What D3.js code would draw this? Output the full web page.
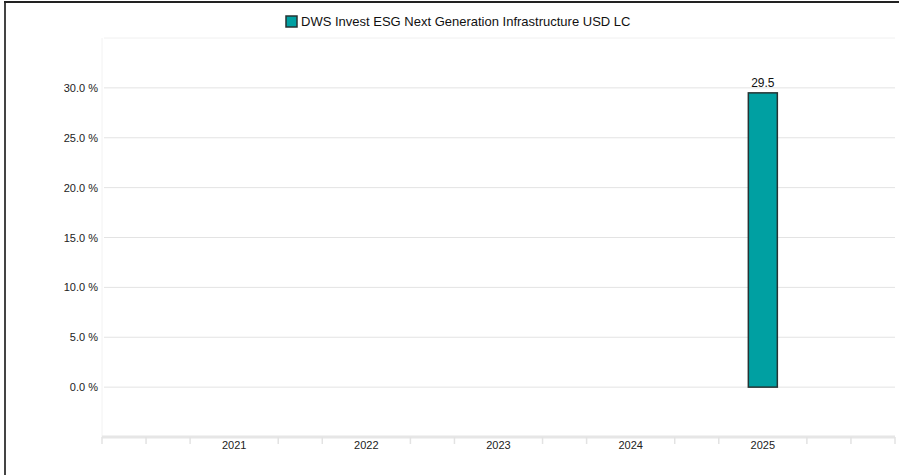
<!DOCTYPE html>
<html>
<head>
<meta charset="utf-8">
<script src="https://cdn.jsdelivr.net/npm/d3@7"></script>
<style>
  body { margin: 0; background: #fff; }
  svg { display: block; font-family: "Liberation Sans", Arial, sans-serif; }
</style>
</head>
<body>
<div class="chart"></div>
<script>
// Chart data
var seriesName = "DWS Invest ESG Next Generation Infrastructure USD LC";
var years = [2021, 2022, 2023, 2024, 2025];
var values = [null, null, null, null, 29.5];
var yTicks = [0, 5, 10, 15, 20, 25, 30];

var svgWidth = 899;
var svgHeight = 475;

var margin = { top: 38, right: 4, bottom: 38, left: 102 };
var width = svgWidth - margin.left - margin.right;
var height = svgHeight - margin.top - margin.bottom;

var svg = d3.select(".chart")
  .append("svg")
  .attr("width", svgWidth)
  .attr("height", svgHeight);

// outer frame (left and top edges)
svg.append("line").attr("x1", 5).attr("x2", 5).attr("y1", 1).attr("y2", svgHeight)
  .attr("stroke", "#444").attr("stroke-width", 2);
svg.append("line").attr("x1", 4).attr("x2", svgWidth).attr("y1", 2).attr("y2", 2)
  .attr("stroke", "#222").attr("stroke-width", 2);

var chartGroup = svg.append("g")
  .attr("transform", `translate(${margin.left}, ${margin.top})`);

// Scales
var xScale = d3.scaleLinear().domain([2020, 2026]).range([0, width]);
var yScale = d3.scaleLinear().domain([-5, 35]).range([height, 0]);

// Gridlines
chartGroup.selectAll(".grid")
  .data(yTicks.concat([35]))
  .enter()
  .append("line")
  .attr("x1", 2)
  .attr("x2", width)
  .attr("y1", d => yScale(d))
  .attr("y2", d => yScale(d))
  .attr("stroke", d => d === 35 ? "#f0f0f0" : "#e3e3e3")
  .attr("stroke-width", 1);

// faint y axis line
chartGroup.append("line")
  .attr("x1", 0).attr("x2", 0)
  .attr("y1", 0).attr("y2", height)
  .attr("stroke", "#f2f2f2");

// Y labels
var yAxis = d3.axisLeft(yScale)
  .tickValues(yTicks)
  .tickSize(0)
  .tickPadding(4)
  .tickFormat(d => d3.format(".1f")(d) + " %");

chartGroup.append("g")
  .call(yAxis)
  .call(g => g.select(".domain").remove())
  .selectAll("text")
  .attr("font-size", 11)
  .attr("font-family", "Liberation Sans, Arial, sans-serif")
  .attr("fill", "#222");

// X axis: minor ticks every third of a year
var minorTicks = d3.range(0, 19).map(i => 2020 + i / 3)
  .filter(t => !years.some(y => Math.abs(y - t) < 1e-6));

chartGroup.append("line")
  .attr("x1", 0).attr("x2", width)
  .attr("y1", height).attr("y2", height)
  .attr("stroke", "#e6e6e6").attr("stroke-width", 3);

chartGroup.selectAll(".minor")
  .data(minorTicks)
  .enter()
  .append("line")
  .attr("x1", d => xScale(d))
  .attr("x2", d => xScale(d))
  .attr("y1", height)
  .attr("y2", height + 7)
  .attr("stroke", "#e3e3e3")
  .attr("stroke-width", 1.5);

chartGroup.selectAll(".xlabel")
  .data(years)
  .enter()
  .append("text")
  .attr("x", d => xScale(d))
  .attr("y", height + 12)
  .attr("text-anchor", "middle")
  .attr("font-size", 11)
  .attr("fill", "#222")
  .text(d => d);

// Bars
var barData = years.map((y, i) => ({ year: y, value: values[i] }))
  .filter(d => d.value !== null);
var barWidth = 29;

chartGroup.selectAll(".bar")
  .data(barData)
  .enter()
  .append("rect")
  .attr("x", d => xScale(d.year) - barWidth / 2)
  .attr("y", d => yScale(d.value))
  .attr("width", barWidth)
  .attr("height", d => yScale(0) - yScale(d.value))
  .attr("fill", "#00a0a2")
  .attr("stroke", "#263333")
  .attr("stroke-width", 1.5);

chartGroup.selectAll(".barlabel")
  .data(barData)
  .enter()
  .append("text")
  .attr("x", d => xScale(d.year))
  .attr("y", d => yScale(d.value) - 6)
  .attr("text-anchor", "middle")
  .attr("font-size", 12)
  .attr("fill", "#111")
  .text(d => d.value.toFixed(1));

// Legend
var legend = svg.append("g").attr("transform", "translate(286, 16)");
legend.append("rect")
  .attr("width", 11).attr("height", 11)
  .attr("fill", "#00a0a2")
  .attr("stroke", "#263333")
  .attr("stroke-width", 1.5);
legend.append("text")
  .attr("x", 15)
  .attr("y", 10)
  .attr("font-size", 13)
  .attr("fill", "#111")
  .text(seriesName);
</script>
</body>
</html>
